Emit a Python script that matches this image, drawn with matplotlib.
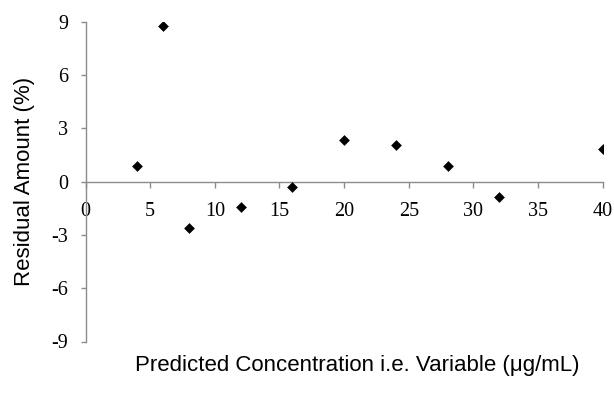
import matplotlib
matplotlib.use("Agg")
import matplotlib.pyplot as plt

concentration = [4, 6, 8, 12, 16, 20, 24, 28, 32, 40]
residual = [0.9, 8.75, -2.62, -1.44, -0.28, 2.35, 2.08, 0.9, -0.84, 1.86]
x_ticks = [0, 5, 10, 15, 20, 25, 30, 35, 40]
y_ticks = [-9, -6, -3, 0, 3, 6, 9]
y_tick_labels = ["-9", "-6", "-3", "0", "3", "6", "9"]

W, H = 614, 394
fig = plt.figure(figsize=(W / 100, H / 100), dpi=100)
x0, x1 = 85.5, 602.7
ytop, ybot = 21.7, 341.5
ax = fig.add_axes([x0 / W, 1 - ybot / H, (x1 - x0) / W, (ybot - ytop) / H])

ax.scatter(concentration, residual, marker="D", s=30, color="black", zorder=3, linewidths=0)

ax.set_xlim(0, 40)
ax.set_ylim(-9, 9)

axis_color = "#8c8c8c"
for side in ["top", "right"]:
    ax.spines[side].set_visible(False)
ax.spines["bottom"].set_position(("data", 0))
ax.spines["bottom"].set_color(axis_color)
ax.spines["left"].set_color(axis_color)
ax.spines["bottom"].set_linewidth(1.0)
ax.spines["left"].set_linewidth(1.0)

ax.set_xticks(x_ticks)
ax.set_yticks(y_ticks)
ax.set_yticklabels(y_tick_labels)
ax.tick_params(axis="x", direction="out", length=4, width=1.0, color=axis_color,
               pad=11, labelsize=14.5, labelfontfamily="Liberation Serif")
ax.tick_params(axis="y", direction="out", length=3.5, width=1.0, color=axis_color,
               pad=9, labelsize=14.5, labelfontfamily="Liberation Serif")

fig.text(357 / W, 1 - 365 / H, "Predicted Concentration i.e. Variable (\u03bcg/mL)",
         ha="center", va="center", fontsize=16, family="Liberation Sans")
fig.text(25 / W, 1 - 181 / H, "Residual Amount (%)", rotation=90,
         ha="center", va="center", fontsize=16, family="Liberation Sans")

fig.savefig("out.png", dpi=100)
